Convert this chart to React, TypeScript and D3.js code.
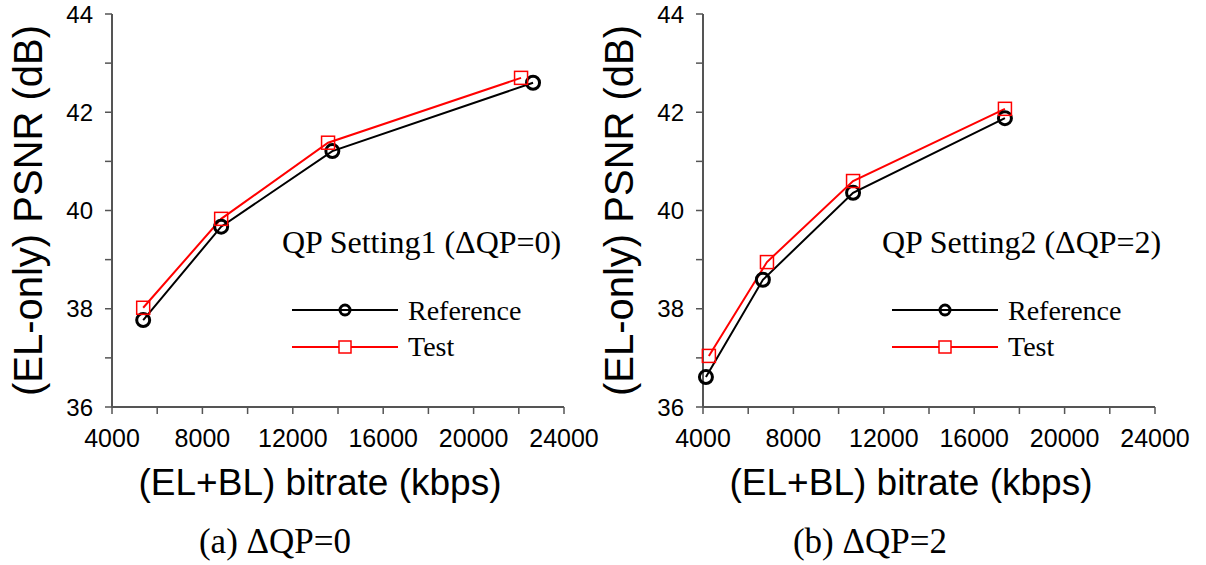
import React from "react";
import * as d3 from "d3";

const xTicks = [4000, 8000, 12000, 16000, 20000, 24000];
const yTicks = [36, 38, 40, 42, 44];

const refA = [
  { x: 5380, y: 37.77 },
  { x: 8830, y: 39.67 },
  { x: 13750, y: 41.21 },
  { x: 22630, y: 42.6 },
];
const testA = [
  { x: 5380, y: 38.02 },
  { x: 8830, y: 39.83 },
  { x: 13560, y: 41.38 },
  { x: 22100, y: 42.7 },
];
const refB = [
  { x: 4130, y: 36.61 },
  { x: 6650, y: 38.59 },
  { x: 10640, y: 40.36 },
  { x: 17360, y: 41.88 },
];
const testB = [
  { x: 4260, y: 37.04 },
  { x: 6830, y: 38.95 },
  { x: 10640, y: 40.6 },
  { x: 17360, y: 42.07 },
];

const panels = [
  { left: 112, ref: refA, test: testA, legend: "QP Setting1 (ΔQP=0)", caption: "(a) ΔQP=0", legX: 282, capDx: -63 },
  { left: 703, ref: refB, test: testB, legend: "QP Setting2 (ΔQP=2)", caption: "(b) ΔQP=2", legX: 882, capDx: -59 },
];

const sans = "Liberation Sans, Arial, sans-serif";
const serif = "Liberation Serif, Times New Roman, serif";

function Panel({ p }: { p: typeof panels[0] }) {
  const w = 452;
  const top = 14;
  const bottom = 407;
  const x = d3.scaleLinear().domain([4000, 24000]).range([p.left, p.left + w]);
  const y = d3.scaleLinear().domain([36, 44]).range([bottom, top]);
  const line = d3.line<{ x: number; y: number }>().x((d) => x(d.x)).y((d) => y(d.y));
  const axisColor = "#555";
  const minorX = d3.range(4000, 24001, 2000);
  const minorY = d3.range(36, 44.01, 1);
  const cx = (p.left + p.left + w) / 2;
  const lx1 = p.legX + 10;
  const lx2 = p.legX + 116;
  const lm = (lx1 + lx2) / 2;
  return (
    <g>
      <line x1={p.left} x2={p.left} y1={top} y2={bottom} stroke={axisColor} strokeWidth={2} />
      <line x1={p.left} x2={p.left + w} y1={bottom} y2={bottom} stroke={axisColor} strokeWidth={2} />
      {minorY.map((v) => (
        <line key={"y" + v} x1={p.left - 7} x2={p.left} y1={y(v)} y2={y(v)} stroke={axisColor} strokeWidth={1.5} />
      ))}
      {minorX.map((v) => (
        <line key={"x" + v} x1={x(v)} x2={x(v)} y1={bottom} y2={bottom + 7} stroke={axisColor} strokeWidth={1.5} />
      ))}
      {yTicks.map((v) => (
        <text key={"yl" + v} x={p.left - 19} y={y(v)} dy="0.36em" textAnchor="end" fontFamily={sans} fontSize={24}>
          {v}
        </text>
      ))}
      {xTicks.map((v) => (
        <text key={"xl" + v} x={x(v)} y={bottom + 40} textAnchor="middle" fontFamily={sans} fontSize={25}>
          {v}
        </text>
      ))}
      <text x={cx - 18} y={495} textAnchor="middle" fontFamily={sans} fontSize={37}>
        (EL+BL) bitrate (kbps)
      </text>
      <text
        transform={`translate(${p.left - 70},${(top + bottom) / 2}) rotate(-90)`}
        textAnchor="middle"
        fontFamily={sans}
        fontSize={40}
      >
        (EL-only) PSNR (dB)
      </text>
      <text x={cx + p.capDx} y={553} textAnchor="middle" fontFamily={serif} fontSize={35}>
        {p.caption}
      </text>
      <path d={line(p.ref) || ""} fill="none" stroke="#000" strokeWidth={2} />
      <path d={line(p.test) || ""} fill="none" stroke="#f00" strokeWidth={2} />
      {p.ref.map((d, i) => (
        <circle key={"c" + i} cx={x(d.x)} cy={y(d.y)} r={6.5} fill="none" stroke="#000" strokeWidth={3} />
      ))}
      {p.test.map((d, i) => (
        <rect key={"r" + i} x={x(d.x) - 6.5} y={y(d.y) - 6.5} width={13} height={13} fill="none" stroke="#f00" strokeWidth={1.5} />
      ))}
      <text x={p.legX} y={253} fontFamily={serif} fontSize={32}>
        {p.legend}
      </text>
      <line x1={lx1} x2={lx2} y1={310} y2={310} stroke="#000" strokeWidth={2} />
      <circle cx={lm} cy={310} r={5} fill="none" stroke="#000" strokeWidth={3} />
      <text x={lx2 + 10} y={320} fontFamily={serif} fontSize={28}>
        Reference
      </text>
      <line x1={lx1} x2={lx2} y1={347} y2={347} stroke="#f00" strokeWidth={2} />
      <rect x={lm - 6} y={341} width={12} height={12} fill="#fff" stroke="#f00" strokeWidth={1.5} />
      <text x={lx2 + 10} y={356} fontFamily={serif} fontSize={28}>
        Test
      </text>
    </g>
  );
}

export default function App() {
  return (
    <svg width={1206} height={565} style={{ position: "absolute", left: 0, top: 0, background: "#fff" }}>
      <rect width={1206} height={565} fill="#fff" />
      {panels.map((p, i) => (
        <Panel key={i} p={p} />
      ))}
    </svg>
  );
}
